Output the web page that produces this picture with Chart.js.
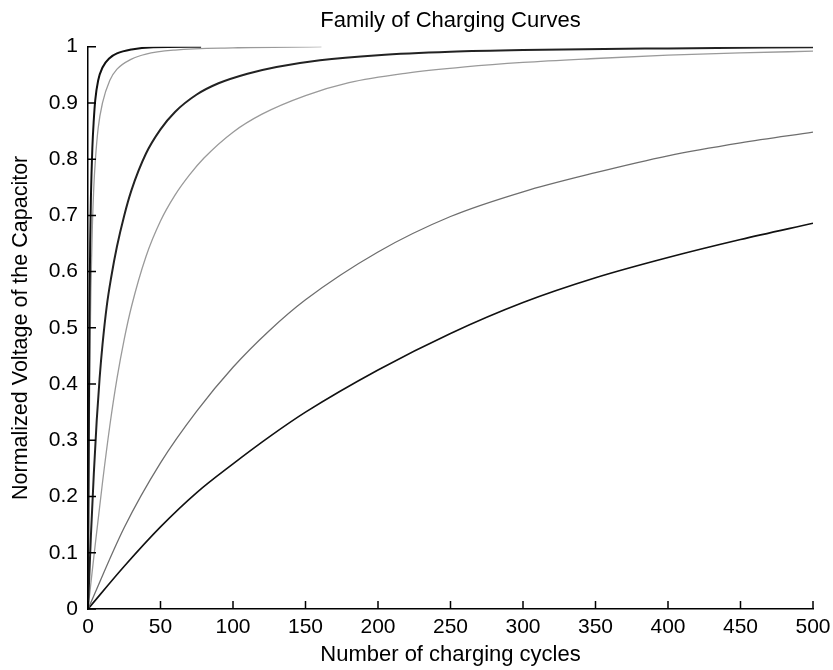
<!DOCTYPE html>
<html>
<head>
<meta charset="utf-8">
<script src="https://cdn.jsdelivr.net/npm/chart.js@4.4.1/dist/chart.umd.min.js"></script>
<style>
  html, body { margin: 0; padding: 0; background: #fff; }
  #chart { display: block; }
</style>
</head>
<body>
<canvas id="chart" width="833" height="670"></canvas>
<script>
// Values (cycles -> normalized voltage)
const cycles1 = [0, 0.5, 1, 1.5, 2, 3, 4, 5, 7, 10, 15, 20, 30, 45, 78];
const volts1 = [0, 0.3, 0.52, 0.65, 0.73, 0.82, 0.87, 0.905, 0.94, 0.963, 0.98, 0.988, 0.995, 0.999, 1.0];

const cycles2 = [0, 0.5, 1, 1.5, 2, 3, 4, 5, 7, 10, 15, 20, 30, 40, 60, 100, 161];
const volts2 = [0, 0.2, 0.36, 0.48, 0.57, 0.68, 0.75, 0.795, 0.855, 0.9, 0.94, 0.96, 0.978, 0.987, 0.994, 0.998, 1.0];

const cycles3 = [0, 2, 4, 6, 8, 10, 13, 16, 20, 25, 30, 40, 50, 60, 75, 90, 110, 130, 160, 200, 250, 300, 400, 500];
const volts3 = [0, 0.13, 0.24, 0.335, 0.41, 0.47, 0.54, 0.59, 0.645, 0.7, 0.745, 0.81, 0.853, 0.884, 0.915, 0.935, 0.952, 0.964, 0.976, 0.985, 0.991, 0.994, 0.997, 0.999];

const cycles4 = [0, 5, 10, 15, 20, 25, 30, 40, 50, 60, 70, 80, 100, 120, 150, 180, 220, 260, 300, 350, 400, 450, 500];
const volts4 = [0, 0.115, 0.225, 0.325, 0.41, 0.48, 0.538, 0.627, 0.69, 0.736, 0.772, 0.802, 0.848, 0.88, 0.913, 0.936, 0.953, 0.964, 0.972, 0.979, 0.985, 0.989, 0.992];

const cycles5 = [0, 25, 50, 75, 100, 125, 150, 200, 250, 300, 350, 400, 450, 500];
const volts5 = [0, 0.145, 0.26, 0.352, 0.43, 0.495, 0.55, 0.635, 0.698, 0.742, 0.776, 0.806, 0.829, 0.848];

const cycles6 = [0, 25, 50, 75, 100, 125, 150, 200, 250, 300, 350, 400, 450, 500];
const volts6 = [0, 0.076, 0.146, 0.207, 0.258, 0.306, 0.35, 0.425, 0.49, 0.545, 0.589, 0.625, 0.657, 0.686];

const xTicks = [0, 50, 100, 150, 200, 250, 300, 350, 400, 450, 500];
const yTicks = [0, 0.1, 0.2, 0.3, 0.4, 0.5, 0.6, 0.7, 0.8, 0.9, 1];

const FONT = "'Liberation Sans', Arial, sans-serif";

function points(xs, ys) {
  return xs.map((x, i) => ({ x: x, y: ys[i] }));
}

function curve(xs, ys, color, width) {
  return {
    data: points(xs, ys),
    borderColor: color,
    borderWidth: width,
    pointRadius: 0,
    fill: false,
    cubicInterpolationMode: 'monotone'
  };
}

// matlab style ticks pointing into the plot
const inwardTicks = {
  id: 'inwardTicks',
  afterDatasetsDraw(chart) {
    const { ctx, chartArea, scales } = chart;
    ctx.save();
    ctx.strokeStyle = '#000';
    ctx.lineWidth = 1.5;
    ctx.beginPath();
    xTicks.forEach(v => {
      const px = scales.x.getPixelForValue(v);
      ctx.moveTo(px, chartArea.bottom);
      ctx.lineTo(px, chartArea.bottom - 8);
    });
    yTicks.forEach(v => {
      const py = scales.y.getPixelForValue(v);
      ctx.moveTo(chartArea.left, py);
      ctx.lineTo(chartArea.left + 8, py);
    });
    ctx.stroke();
    ctx.restore();
  }
};

new Chart(document.getElementById('chart'), {
  type: 'line',
  data: {
    datasets: [
      curve(cycles1, volts1, '#111', 2),
      curve(cycles2, volts2, '#9a9a9a', 1.3),
      curve(cycles3, volts3, '#222', 2),
      curve(cycles4, volts4, '#9a9a9a', 1.3),
      curve(cycles5, volts5, '#6e6e6e', 1.3),
      curve(cycles6, volts6, '#111', 1.6)
    ]
  },
  options: {
    responsive: false,
    animation: false,
    layout: { padding: { left: 0, right: 20, top: 0, bottom: 0 } },
    plugins: {
      legend: { display: false },
      tooltip: { enabled: false },
      title: {
        display: true,
        text: 'Family of Charging Curves',
        fullSize: false,
        color: '#000',
        font: { family: FONT, size: 22, weight: 'normal' },
        padding: { top: 8, bottom: 12.3 }
      }
    },
    scales: {
      x: {
        type: 'linear',
        min: 0,
        max: 500,
        afterFit(scale) {
          scale.height = 61;
          scale.paddingLeft = 0;
          scale.paddingRight = 0;
        },
        afterBuildTicks(scale) { scale.ticks = xTicks.map(v => ({ value: v })); },
        grid: { display: false, drawTicks: false },
        border: { display: true, color: '#000', width: 1.5 },
        ticks: { color: '#000', padding: 6, maxRotation: 0, font: { family: FONT, size: 21 } },
        title: {
          display: true,
          text: 'Number of charging cycles',
          color: '#000',
          font: { family: FONT, size: 22 },
          padding: { top: 0, bottom: 2 }
        }
      },
      y: {
        type: 'linear',
        min: 0,
        max: 1,
        afterFit(scale) {
          scale.width = 88;
          scale.paddingTop = 0;
          scale.paddingBottom = 0;
        },
        afterBuildTicks(scale) { scale.ticks = yTicks.map(v => ({ value: v })); },
        grid: { display: false, drawTicks: false },
        border: { display: true, color: '#000', width: 1.5 },
        ticks: {
          color: '#000',
          padding: 10,
          font: { family: FONT, size: 21 },
          callback: v => String(v)
        },
        title: {
          display: true,
          text: 'Normalized Voltage of the Capacitor',
          color: '#000',
          font: { family: FONT, size: 21.5 },
          padding: { top: 8, bottom: 0 }
        }
      }
    }
  },
  plugins: [inwardTicks]
});
</script>
</body>
</html>
